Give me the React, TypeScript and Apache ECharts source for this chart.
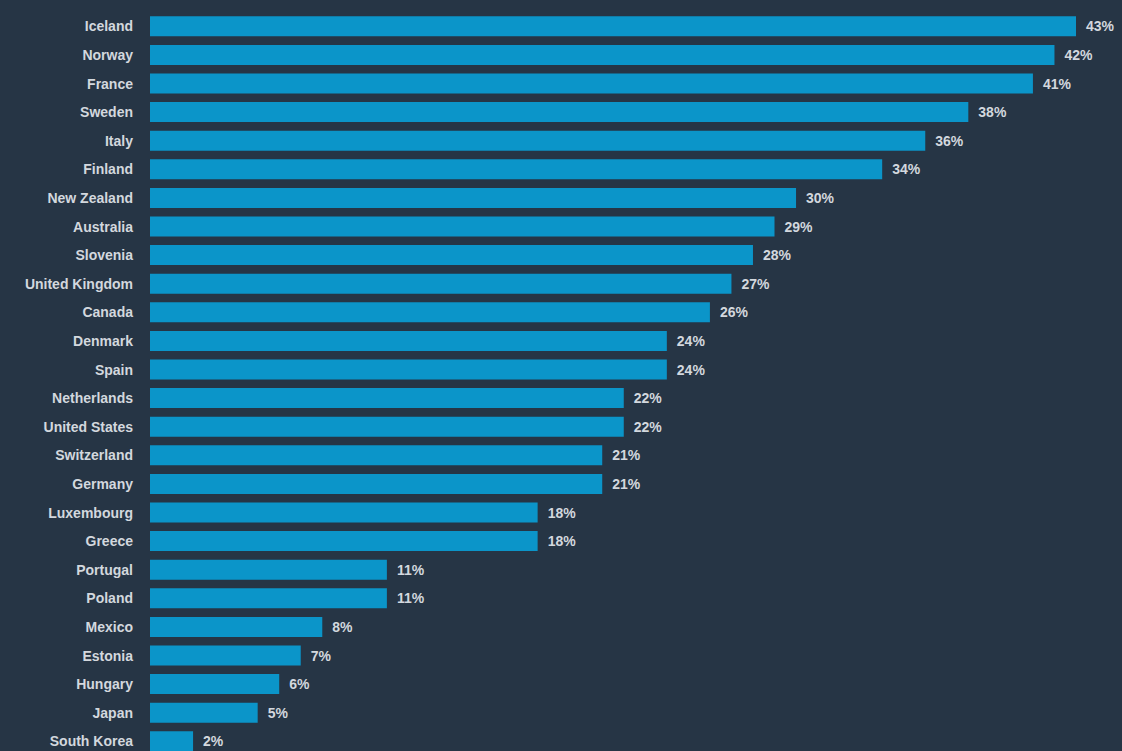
import React, { useEffect, useRef } from "react";
import * as echarts from "echarts";

const countries = [
  "Iceland", "Norway", "France", "Sweden", "Italy", "Finland", "New Zealand", "Australia",
  "Slovenia", "United Kingdom", "Canada", "Denmark", "Spain", "Netherlands", "United States",
  "Switzerland", "Germany", "Luxembourg", "Greece", "Portugal", "Poland", "Mexico", "Estonia",
  "Hungary", "Japan", "South Korea",
];
const values = [43, 42, 41, 38, 36, 34, 30, 29, 28, 27, 26, 24, 24, 22, 22, 21, 21, 18, 18, 11, 11, 8, 7, 6, 5, 2];

const BG = "#263545";
const BAR = "#0b95c9";
const TXT = "#d3d8de";
const FONT = "'Liberation Sans', Arial, sans-serif";

export default function App() {
  const ref = useRef<HTMLDivElement>(null);
  useEffect(() => {
    if (!ref.current) return;
    const chart = echarts.init(ref.current, undefined, { renderer: "svg" });
    chart.setOption({
      animation: false,
      backgroundColor: BG,
      grid: { left: 150, top: 12, width: 926, height: 743.6, containLabel: false },
      xAxis: {
        type: "value",
        min: 0,
        max: 43,
        show: false,
      },
      yAxis: {
        type: "category",
        data: countries,
        inverse: true,
        axisLine: { show: false },
        axisTick: { show: false },
        splitLine: { show: false },
        axisLabel: {
          color: TXT,
          fontFamily: FONT,
          fontWeight: "bold",
          fontSize: 14,
          margin: 17,
        },
      },
      series: [
        {
          type: "bar",
          data: values,
          barWidth: 20,
          itemStyle: { color: BAR },
          label: {
            show: true,
            position: "right",
            distance: 10,
            formatter: "{c}%",
            color: TXT,
            fontFamily: FONT,
            fontWeight: "bold",
            fontSize: 14,
          },
        },
      ],
    });
    return () => chart.dispose();
  }, []);
  return (
    <div
      ref={ref}
      style={{ position: "fixed", left: 0, top: 0, width: 1122, height: 760 }}
    />
  );
}
